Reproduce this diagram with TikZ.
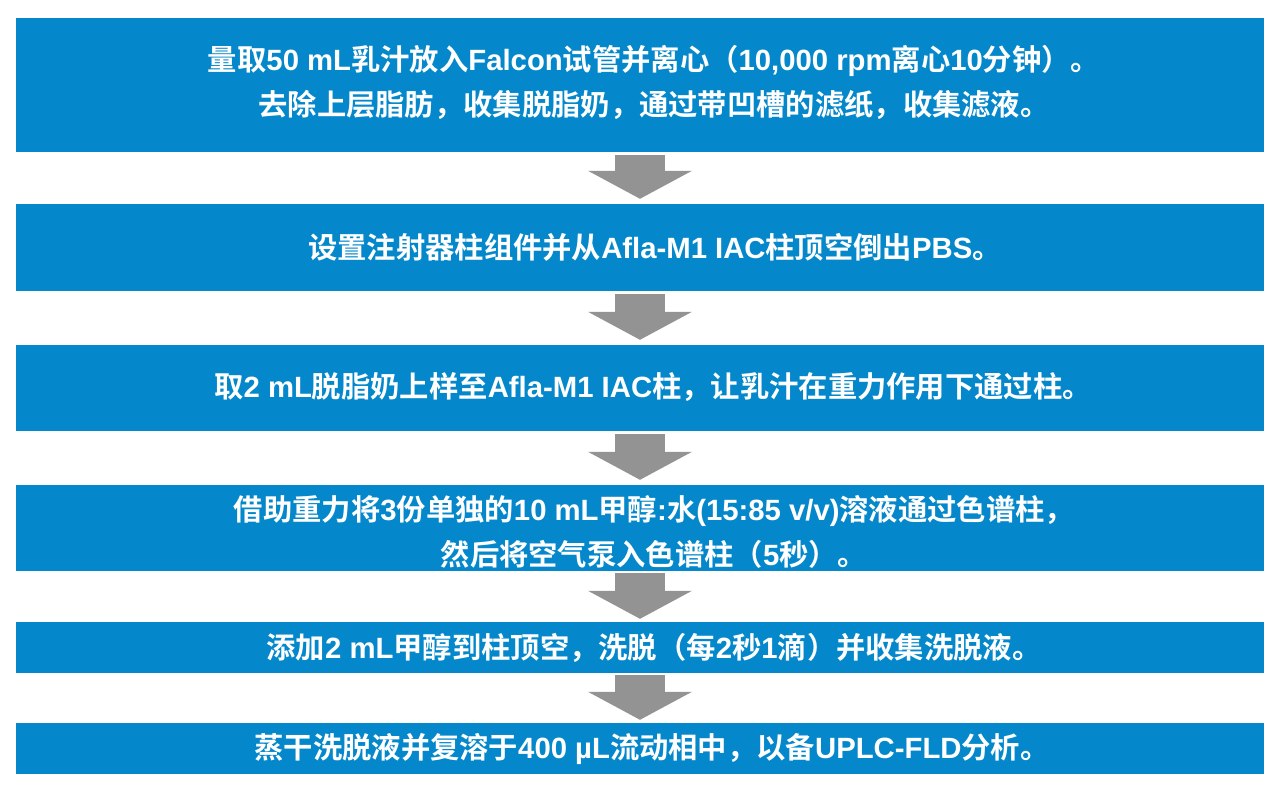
\documentclass[tikz,border=0pt]{standalone}
\usepackage{fontspec}
\setmainfont{Noto Sans CJK SC}[BoldFont={Noto Sans CJK SC Bold}]
\newfontfamily\latfont{Liberation Sans}
\newcommand{\en}[1]{{\latfont #1}}
\usetikzlibrary{arrows.meta}
\definecolor{stepblue}{HTML}{0588CB}
\definecolor{arrowgray}{HTML}{939393}

\begin{document}
\begin{tikzpicture}[
            x=1pt, y=1pt,
            stepbox/.style={
                    fill=stepblue,
                    rectangle,
                    minimum width=1248pt,
                    inner sep=0pt
                },
            steptext/.style={
                    align=center,
                    text=white,
                    font=\fontsize{29.3}{45}\selectfont\bfseries,
                    inner sep=0pt
                },
            flow/.style={
                    draw=arrowgray,
                    line width=50pt,
                    -{Triangle[length=28pt, width=104pt, line width=0pt]},
                    shorten <=3pt,
                    shorten >=5pt
                }
        ]
        \useasboundingbox (0, 0) rectangle (1280, 793);

        \node[stepbox, minimum height=134pt] (spin) at (640, 708) {};
        \node[stepbox, minimum height=87pt] (setup) at (640, 545.5) {};
        \node[stepbox, minimum height=86pt] (load) at (640, 405) {};
        \node[stepbox, minimum height=86pt] (wash) at (640, 265) {};
        \node[stepbox, minimum height=51pt] (elute) at (640, 145.5) {};
        \node[stepbox, minimum height=51pt] (dry) at (640, 44.5) {};

        \node[steptext] (spin text) at ([shift={(14, 3)}]spin.center) {量取\en{50 mL}乳汁放入\en{Falcon}试管并离心（\en{10,000 rpm}离心\en{10}分钟）。\\去除上层脂肪，收集脱脂奶，通过带凹槽的滤纸，收集滤液。};
        \node[steptext] (setup text) at ([shift={(15, 0)}]setup.center) {设置注射器柱组件并从\en{Afla-M1 IAC}柱顶空倒出\en{PBS}。};
        \node[steptext] (load text) at ([shift={(13, 1)}]load.center) {取\en{2 mL}脱脂奶上样至\en{Afla-M1 IAC}柱，让乳汁在重力作用下通过柱。};
        \node[steptext] (wash text) at ([shift={(14, -4)}]wash.center) {借助重力将\en{3}份单独的\en{10 mL}甲醇\en{:}水\en{(15:85 v/v)}溶液通过色谱柱，\\然后将空气泵入色谱柱（\en{5}秒）。};
        \node[steptext] (elute text) at ([shift={(14, 0)}]elute.center) {添加\en{2 mL}甲醇到柱顶空，洗脱（每\en{2}秒\en{1}滴）并收集洗脱液。};
        \node[steptext] (dry text) at ([shift={(12, 0)}]dry.center) {蒸干洗脱液并复溶于\en{400 µL}流动相中，以备\en{UPLC-FLD}分析。};

        \draw[flow] (spin.south) -- (setup.north);
        \draw[flow] (setup.south) -- (load.north);
        \draw[flow] (load.south) -- (wash.north);
        \draw[flow, shorten <=2pt, shorten >=3pt] (wash.south) -- (elute.north);
        \draw[flow, shorten <=2pt, shorten >=3pt] (elute.south) -- (dry.north);

    \end{tikzpicture}
\end{document}
